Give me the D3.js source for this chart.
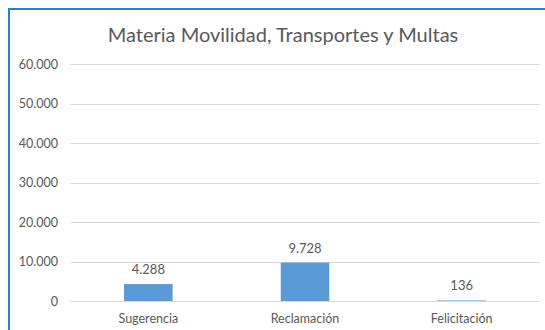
<!DOCTYPE html>
<html>
<head>
<meta charset="utf-8">
<script src="https://cdn.jsdelivr.net/npm/d3@7"></script>
<style>
  html, body { margin: 0; padding: 0; background: #fff; }
  svg { display: block; }
  text { font-family: Lato, "Open Sans", sans-serif; fill: #595959; }
</style>
</head>
<body>
<svg id="chart" width="545" height="330"></svg>
<script>
const categories = ["Sugerencia", "Reclamación", "Felicitación"];
const values = [4288, 9728, 136];
const valueLabels = ["4.288", "9.728", "136"];
const yTicks = [0, 10000, 20000, 30000, 40000, 50000, 60000];
const yTickLabels = ["0", "10.000", "20.000", "30.000", "40.000", "50.000", "60.000"];
const title = "Materia Movilidad, Transportes y Multas";

const svg = d3.select("#chart");
const W = 545, H = 330;
const plot = { left: 70, right: 540, top: 64, bottom: 301 };

// chart frame (blue outline at top and left)
svg.append("path")
  .attr("d", `M9,${H} L9,9 L${W},9`)
  .attr("fill", "none")
  .attr("stroke", "#2f7fd0")
  .attr("stroke-width", 2);

const x = d3.scaleBand()
  .domain(categories)
  .range([plot.left, plot.right])
  .paddingInner(0.69)
  .paddingOuter(0.345);

const y = d3.scaleLinear()
  .domain([0, 60000])
  .range([plot.bottom, plot.top]);

// horizontal gridlines
svg.append("g")
  .selectAll("line")
  .data(yTicks)
  .join("line")
  .attr("x1", plot.left)
  .attr("x2", plot.right)
  .attr("y1", d => Math.round(y(d)) + 0.5)
  .attr("y2", d => Math.round(y(d)) + 0.5)
  .attr("stroke", "#d9d9d9")
  .attr("stroke-width", 1);

// y axis labels
const yAxis = d3.axisLeft(y)
  .tickValues(yTicks)
  .tickFormat((d, i) => yTickLabels[i])
  .tickSize(0)
  .tickPadding(0);
const gy = svg.append("g")
  .attr("transform", `translate(58,0)`)
  .call(yAxis);
gy.select(".domain").remove();
gy.selectAll("text")
  .attr("font-size", 12.5)
  .attr("font-family", "Lato, sans-serif")
  .attr("fill", "#636363");

// bars
svg.append("g")
  .selectAll("rect")
  .data(values)
  .join("rect")
  .attr("x", (d, i) => x(categories[i]))
  .attr("width", x.bandwidth())
  .attr("y", d => y(d))
  .attr("height", d => y(0) - y(d))
  .attr("fill", "#5b9bd5");

// value labels
svg.append("g")
  .selectAll("text")
  .data(values)
  .join("text")
  .attr("x", (d, i) => x(categories[i]) + x.bandwidth() / 2)
  .attr("y", d => y(d) - 10)
  .attr("text-anchor", "middle")
  .attr("font-size", 13)
  .attr("fill", "#404040")
  .text((d, i) => valueLabels[i]);

// category axis
const xAxis = d3.axisBottom(x).tickSize(0).tickPadding(0);
const gx = svg.append("g")
  .attr("transform", `translate(0,${plot.bottom + 22})`)
  .call(xAxis);
gx.select(".domain").remove();
gx.selectAll("text")
  .attr("dy", 0)
  .attr("font-size", 12.5)
  .attr("font-family", "Lato, sans-serif")
  .attr("fill", "#636363");

// title
svg.append("text")
  .attr("x", 283)
  .attr("y", 42)
  .attr("text-anchor", "middle")
  .attr("font-size", 20)
  .attr("fill", "#595959")
  .text(title);
</script>
</body>
</html>
